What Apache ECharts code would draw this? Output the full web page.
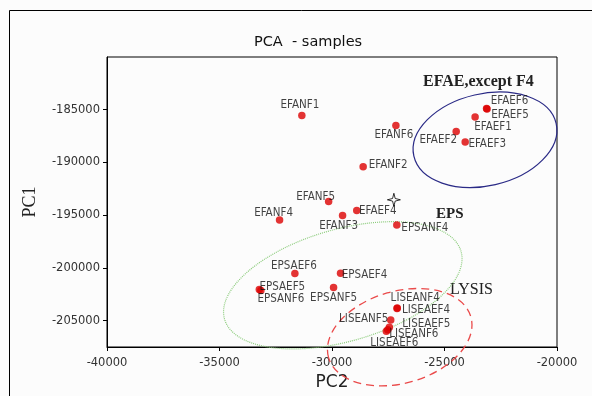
<!DOCTYPE html>
<html>
<head>
<meta charset="utf-8">
<script src="https://cdn.jsdelivr.net/npm/echarts@6/dist/echarts.min.js"></script>
<style>
html,body{margin:0;padding:0;background:#fcfcfc;}
#c{width:592px;height:396px;}
</style>
</head>
<body>
<div id="c"></div>
<script>
// ---- data ----
const sampleNames = ["EFANF1","EFANF5","EFANF4","EFANF3","EFAEF4","EPSANF4","EFANF6","EFANF2",
  "EFAEF2","EFAEF3","EFAEF1","EFAEF5","EFAEF6","EPSAEF6","EPSAEF4","EPSAEF5","EPSANF6","EPSANF5",
  "LISEANF4","LISEAEF4","LISEANF5","LISEAEF5","LISEANF6","LISEAEF6"];
const pc2Values = [-31340,-30150,-32330,-29530,-28900,-27120,-27160,-28615,
  -24480,-24080,-23640,-23110,-23130,-31650,-29620,-33230,-33160,-29930,
  -27100,-27110,-27390,-27450,-27520,-27585];
const pc1Values = [-185540,-193700,-195450,-195030,-194550,-195920,-186500,-190400,
  -187070,-188050,-185700,-184930,-184880,-200520,-200500,-202050,-202140,-201860,
  -203810,-203860,-204930,-205620,-205860,-206000];
const centroid = [-27250, -193540];
const groupNames = ["EFAE,except F4", "EPS", "LYSIS"];
const groupCentersPC2 = [-23200, -29520, -26990];
const groupCentersPC1 = [-187850, -201650, -206570];
const xTickValues = [-40000,-35000,-30000,-25000,-20000];
const yTickValues = [-205000,-200000,-195000,-190000,-185000];

// ---- styling (label offsets in px, ellipse shapes) ----
const labelOffsets = {
  EFANF1:[-2,-10], EFANF5:[-13,-4], EFANF4:[-6,-7], EFANF3:[-4,11], EFAEF4:[21,1],
  EPSANF4:[28,3], EFANF6:[-2,9], EFANF2:[25,-2], EFAEF2:[-18,8], EFAEF3:[22,2],
  EFAEF1:[18,10], EFAEF5:[23,6], EFAEF6:[23,-7], EPSAEF6:[-1,-7], EPSAEF4:[24,2],
  EPSAEF5:[23,-3], EPSANF6:[20,9], EPSANF5:[0,10], LISEANF4:[18,-10], LISEAEF4:[29,1],
  LISEANF5:[-27,-1], LISEAEF5:[37,-3], LISEANF6:[26,4], LISEAEF6:[8,12]
};
const ellipseStyles = [
  {rx:73, ry:46, rot:13, stroke:'#2a2a86', width:1.2, dash:null},
  {rx:123, ry:56, rot:16, stroke:'#8ccc7c', width:1.2, dash:[1,1]},
  {rx:74, ry:46, rot:16, stroke:'#ea4a4a', width:1.3, dash:[8,5]}
];

const labelFont = "'DejaVu Sans Condensed','Liberation Sans',sans-serif";

const scatterData = sampleNames.map((n,i)=>({name:n, value:[pc2Values[i], pc1Values[i]]}));

const chart = echarts.init(document.getElementById('c'), null, {renderer:'canvas'});
chart.setOption({
  backgroundColor:'#fcfcfc',
  animation:false,
  title:{text:'PCA  - samples', left:249, top:30,
    textStyle:{fontFamily:"'DejaVu Sans',sans-serif", fontSize:14.5, fontWeight:'normal', color:'#111'}},
  grid:{left:107, right:35, top:57, bottom:49, show:true, borderColor:'#000', borderWidth:1, backgroundColor:'transparent'},
  xAxis:{type:'value', min:-40000, max:-20000, interval:5000,
    name:'PC2', nameLocation:'middle', nameGap:25,
    nameTextStyle:{fontFamily:"'DejaVu Sans',sans-serif", fontSize:17, color:'#222'},
    axisLine:{show:true, lineStyle:{color:'#000', width:1}},
    axisTick:{show:true, length:4, lineStyle:{color:'#000'}},
    axisLabel:{margin:10, fontFamily:"'DejaVu Sans',sans-serif", fontSize:11.5, color:'#333',
      customValues: xTickValues, formatter: v=>String(v)},
    splitLine:{show:false}},
  yAxis:{type:'value', min:-207500, max:-180000,
    name:'PC1', nameLocation:'middle', nameGap:68, nameRotate:90,
    nameTextStyle:{fontFamily:"'Liberation Serif',serif", fontSize:18, color:'#222'},
    axisLine:{show:true, lineStyle:{color:'#000', width:1}},
    axisTick:{show:true, length:4, lineStyle:{color:'#000'}, customValues: yTickValues},
    axisLabel:{margin:7, fontFamily:"'DejaVu Sans',sans-serif", fontSize:11.5, color:'#333',
      customValues: yTickValues, formatter: v=>String(v)},
    splitLine:{show:false}},
  graphic:[
    {type:'rect', shape:{x:9.5, y:10.5, width:700, height:500}, style:{fill:'none', stroke:'#000', lineWidth:1}, z:-1},
    {type:'text', x:423, y:82, style:{text:groupNames[0], font:"bold 16px 'Liberation Serif', serif", fill:'#222', verticalAlign:'middle'}},
    {type:'text', x:436, y:214, style:{text:groupNames[1], font:"bold 15px 'Liberation Serif', serif", fill:'#222', verticalAlign:'middle'}},
    {type:'text', x:450, y:290, style:{text:groupNames[2], font:"16px 'Liberation Serif', serif", fill:'#222', verticalAlign:'middle'}}
  ],
  series:[
    {type:'custom', clip:false, silent:true, z:1,
      data: groupCentersPC2.map((x,i)=>[x, groupCentersPC1[i], i]),
      renderItem:(params, api)=>{
        const p = api.coord([api.value(0), api.value(1)]);
        const s = ellipseStyles[api.value(2)];
        return {type:'ellipse', x:p[0], y:p[1], rotation: s.rot*Math.PI/180,
          shape:{cx:0, cy:0, rx:s.rx, ry:s.ry},
          style:{fill:'none', stroke:s.stroke, lineWidth:s.width, lineDash:s.dash}};
      }},
    {type:'scatter', symbol:'circle', symbolSize:7.5, z:3,
      itemStyle:{color:'#dc0000'},
      label:{show:true, position:'inside', formatter:'{b}', fontFamily:labelFont, fontSize:11.5, color:'#111'},
      labelLayout:(params)=>{
        const o = labelOffsets[sampleNames[params.dataIndex]] || [0,0];
        return {dx:o[0], dy:o[1], hideOverlap:false};
      },
      data: scatterData},
    {type:'scatter', z:4, symbolSize:13,
      symbol:'path://M0,-10 L2,-2 L10,0 L2,2 L0,10 L-2,2 L-10,0 L-2,-2 Z',
      itemStyle:{color:'#fff', borderColor:'#000', borderWidth:1},
      data:[centroid]}
  ]
});
</script>
</body>
</html>
